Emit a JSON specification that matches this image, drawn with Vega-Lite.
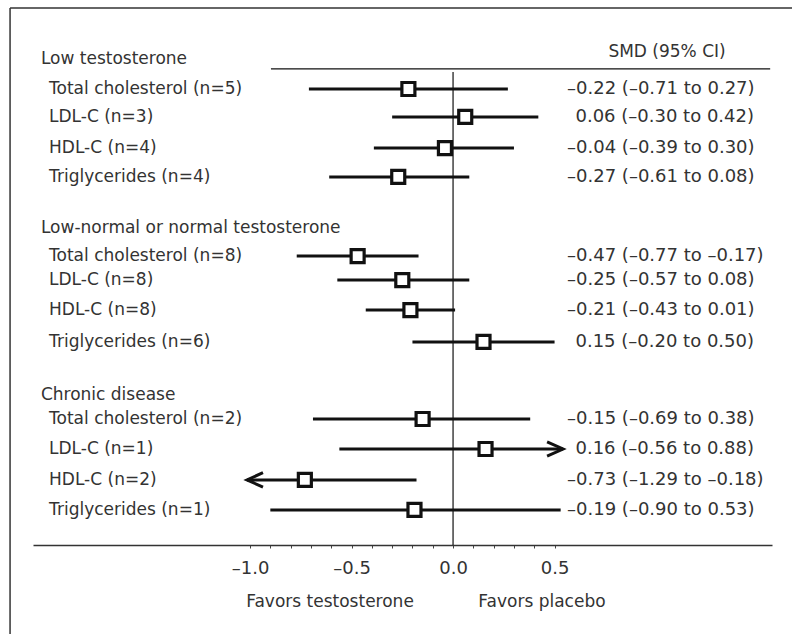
{
  "$schema": "https://vega.github.io/schema/vega-lite/v6.json",
  "width": 739,
  "height": 537,
  "autosize": {"type": "none"},
  "padding": {"left": 33, "top": 8, "right": 20, "bottom": 89},
  "background": "white",
  "config": {"view": {"stroke": null}},
  "datasets": {
    "rows": [
      {"kind": "header", "label": "Low testosterone", "row": 1.70},
      {"kind": "item", "label": "Total cholesterol (n=5)", "row": 2.70, "est": -0.22, "lo": -0.71, "hi": 0.27, "lo_shown": -0.71, "hi_shown": 0.27, "ci": "–0.22 (–0.71 to 0.27)"},
      {"kind": "item", "label": "LDL-C (n=3)", "row": 3.63, "est": 0.06, "lo": -0.30, "hi": 0.42, "lo_shown": -0.30, "hi_shown": 0.42, "ci": "0.06 (–0.30 to 0.42)"},
      {"kind": "item", "label": "HDL-C (n=4)", "row": 4.67, "est": -0.04, "lo": -0.39, "hi": 0.30, "lo_shown": -0.39, "hi_shown": 0.30, "ci": "–0.04 (–0.39 to 0.30)"},
      {"kind": "item", "label": "Triglycerides (n=4)", "row": 5.63, "est": -0.27, "lo": -0.61, "hi": 0.08, "lo_shown": -0.61, "hi_shown": 0.08, "ci": "–0.27 (–0.61 to 0.08)"},
      {"kind": "header", "label": "Low-normal or normal testosterone", "row": 7.33},
      {"kind": "item", "label": "Total cholesterol (n=8)", "row": 8.27, "est": -0.47, "lo": -0.77, "hi": -0.17, "lo_shown": -0.77, "hi_shown": -0.17, "ci": "–0.47 (–0.77 to –0.17)"},
      {"kind": "item", "label": "LDL-C (n=8)", "row": 9.07, "est": -0.25, "lo": -0.57, "hi": 0.08, "lo_shown": -0.57, "hi_shown": 0.08, "ci": "–0.25 (–0.57 to 0.08)"},
      {"kind": "item", "label": "HDL-C (n=8)", "row": 10.07, "est": -0.21, "lo": -0.43, "hi": 0.01, "lo_shown": -0.43, "hi_shown": 0.01, "ci": "–0.21 (–0.43 to 0.01)"},
      {"kind": "item", "label": "Triglycerides (n=6)", "row": 11.13, "est": 0.15, "lo": -0.20, "hi": 0.50, "lo_shown": -0.20, "hi_shown": 0.50, "ci": "0.15 (–0.20 to 0.50)"},
      {"kind": "header", "label": "Chronic disease", "row": 12.90},
      {"kind": "item", "label": "Total cholesterol (n=2)", "row": 13.70, "est": -0.15, "lo": -0.69, "hi": 0.38, "lo_shown": -0.69, "hi_shown": 0.38, "ci": "–0.15 (–0.69 to 0.38)"},
      {"kind": "item", "label": "LDL-C (n=1)", "row": 14.70, "est": 0.16, "lo": -0.56, "hi": 0.88, "lo_shown": -0.56, "hi_shown": 0.542, "ci": "0.16 (–0.56 to 0.88)"},
      {"kind": "item", "label": "HDL-C (n=2)", "row": 15.73, "est": -0.73, "lo": -1.29, "hi": -0.18, "lo_shown": -1.015, "hi_shown": -0.18, "ci": "–0.73 (–1.29 to –0.18)"},
      {"kind": "item", "label": "Triglycerides (n=1)", "row": 16.73, "est": -0.19, "lo": -0.90, "hi": 0.53, "lo_shown": -0.90, "hi_shown": 0.53, "ci": "–0.19 (–0.90 to 0.53)"}
    ],
    "arrows": [
      {"x": 0.542, "row": 14.70, "dir": "right"},
      {"x": -1.015, "row": 15.73, "dir": "left"}
    ],
    "frame": [
      {"x": -2.182, "x2": 1.67, "y": 0, "y2": 0},
      {"x": -2.182, "x2": -2.182, "y": 0, "y2": 20.9}
    ],
    "guides": [
      {"x": -0.897, "x2": 1.562, "y": 2.03, "y2": 2.03},
      {"x": 0, "x2": 0, "y": 2.13, "y2": 17.9}
    ],
    "notes": [
      {"text": "SMD (95% CI)", "x": 1.054, "row": 1.47},
      {"text": "Favors testosterone", "x": -0.606, "row": 19.8},
      {"text": "Favors placebo", "x": 0.438, "row": 19.8}
    ]
  },
  "encoding": {
    "x": {"type": "quantitative", "scale": {"domain": [-2.069, 1.571], "nice": false, "zero": false}},
    "y": {"type": "quantitative", "scale": {"domain": [0, 17.9], "reverse": true, "nice": false, "zero": false}, "axis": null}
  },
  "layer": [
    {
      "data": {"name": "frame"},
      "mark": {"type": "rule", "color": "#333333", "strokeWidth": 1.5},
      "encoding": {
        "x": {"field": "x", "type": "quantitative",
          "axis": {
            "title": null, "grid": false,
            "values": [-1, -0.9, -0.8, -0.7, -0.6, -0.5, -0.4, -0.3, -0.2, -0.1, 0, 0.1, 0.2, 0.3, 0.4, 0.5],
            "labelExpr": "abs(datum.value*2 - round(datum.value*2)) < 0.001 ? (datum.value < -0.001 ? '–' + format(-datum.value, '.1f') : format(abs(datum.value), '.1f')) : ''",
            "labelOverlap": false, "labelFlush": false,
            "labelFont": "DejaVu Sans", "labelFontSize": 18, "labelColor": "#333333",
            "labelPadding": 11,
            "tickSize": 3, "tickColor": "#444444", "tickWidth": 1,
            "domainColor": "#333333", "domainWidth": 1.5
          }},
        "x2": {"field": "x2"},
        "y": {"field": "y", "type": "quantitative"},
        "y2": {"field": "y2"}
      }
    },
    {
      "data": {"name": "guides"},
      "mark": {"type": "rule", "color": "#111111", "strokeWidth": 1.2},
      "encoding": {
        "x": {"field": "x", "type": "quantitative"},
        "x2": {"field": "x2"},
        "y": {"field": "y", "type": "quantitative"},
        "y2": {"field": "y2"}
      }
    },
    {
      "data": {"name": "rows"},
      "transform": [{"filter": "datum.kind === 'item'"}],
      "mark": {"type": "rule", "color": "#111111", "strokeWidth": 3},
      "encoding": {
        "x": {"field": "lo_shown", "type": "quantitative"},
        "x2": {"field": "hi_shown"},
        "y": {"field": "row", "type": "quantitative"}
      }
    },
    {
      "data": {"name": "rows"},
      "transform": [{"filter": "datum.kind === 'item'"}],
      "mark": {"type": "point", "shape": "square", "size": 169, "fill": "white", "stroke": "#111111", "strokeWidth": 3.2, "opacity": 1, "fillOpacity": 1},
      "encoding": {
        "x": {"field": "est", "type": "quantitative"},
        "y": {"field": "row", "type": "quantitative"}
      }
    },
    {
      "data": {"name": "arrows"},
      "mark": {"type": "point", "filled": false, "size": 256, "stroke": "#111111", "strokeWidth": 3, "opacity": 1},
      "encoding": {
        "x": {"field": "x", "type": "quantitative"},
        "y": {"field": "row", "type": "quantitative"},
        "shape": {"field": "dir", "type": "nominal", "legend": null,
          "scale": {"domain": ["right", "left"], "range": ["M -2 -0.9 L 0 0 L -2 0.9", "M 2 -0.9 L 0 0 L 2 0.9"]}}
      }
    },
    {
      "data": {"name": "rows"},
      "transform": [{"filter": "datum.kind === 'header'"}],
      "mark": {"type": "text", "align": "left", "baseline": "middle", "font": "DejaVu Sans", "fontSize": 17, "color": "#333333"},
      "encoding": {
        "x": {"datum": -2.03},
        "y": {"field": "row", "type": "quantitative"},
        "text": {"field": "label"}
      }
    },
    {
      "data": {"name": "rows"},
      "transform": [{"filter": "datum.kind === 'item'"}],
      "mark": {"type": "text", "align": "left", "baseline": "middle", "font": "DejaVu Sans", "fontSize": 17, "color": "#333333"},
      "encoding": {
        "x": {"datum": -1.99},
        "y": {"field": "row", "type": "quantitative"},
        "text": {"field": "label"}
      }
    },
    {
      "data": {"name": "rows"},
      "transform": [{"filter": "datum.kind === 'item' && datum.est < 0"}],
      "mark": {"type": "text", "align": "left", "baseline": "middle", "font": "DejaVu Sans", "fontSize": 18, "color": "#333333"},
      "encoding": {
        "x": {"datum": 0.5616},
        "y": {"field": "row", "type": "quantitative"},
        "text": {"field": "ci"}
      }
    },
    {
      "data": {"name": "rows"},
      "transform": [{"filter": "datum.kind === 'item' && datum.est >= 0"}],
      "mark": {"type": "text", "align": "left", "baseline": "middle", "font": "DejaVu Sans", "fontSize": 18, "color": "#333333"},
      "encoding": {
        "x": {"datum": 0.603},
        "y": {"field": "row", "type": "quantitative"},
        "text": {"field": "ci"}
      }
    },
    {
      "data": {"name": "notes"},
      "mark": {"type": "text", "align": "center", "baseline": "middle", "font": "DejaVu Sans", "fontSize": 17, "color": "#333333"},
      "encoding": {
        "x": {"field": "x", "type": "quantitative"},
        "y": {"field": "row", "type": "quantitative"},
        "text": {"field": "text"}
      }
    }
  ]
}
